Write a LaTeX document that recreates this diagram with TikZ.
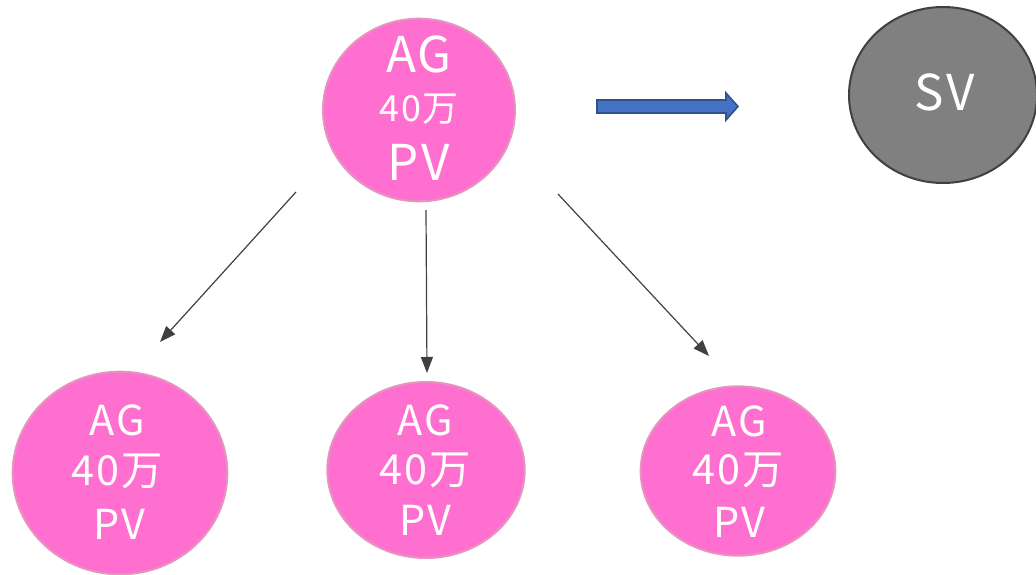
\documentclass[tikz,border=0pt]{standalone}
\usepackage{fontspec}
\setmainfont{Noto Sans CJK JP}[LetterSpace=5]
\usetikzlibrary{shapes.geometric,arrows.meta}

\definecolor{agpink}{RGB}{255,111,207}
\definecolor{agedge}{RGB}{228,148,190}
\definecolor{svgray}{RGB}{128,128,128}
\definecolor{svedge}{RGB}{64,64,64}
\definecolor{flowblue}{RGB}{68,114,196}
\definecolor{flowedge}{RGB}{47,82,143}
\definecolor{linkgray}{RGB}{64,64,64}

\tikzset{every picture/.style={line width=0.75pt},
  agbubble/.style={ellipse, draw=agedge, fill=agpink, line width=1.5pt, inner sep=0pt},
  svbubble/.style={ellipse, draw=svedge, fill=svgray, line width=1.5pt, inner sep=0pt},
  bigtxt/.style={anchor=base, inner sep=0pt, text=white, font=\fontsize{37}{40}\selectfont},
  midtxt/.style={anchor=base, inner sep=0pt, text=white, font=\fontsize{27}{30}\selectfont},
  lowtxt/.style={anchor=base, inner sep=0pt, text=white, font=\fontsize{31}{34}\selectfont},
  link/.style={draw=linkgray, line width=0.9pt, -{Triangle[length=12pt,width=9pt]}},
}

\begin{document}
\begin{tikzpicture}[x=0.75pt,y=0.75pt,yscale=-1]
\useasboundingbox (0,0) rectangle (1036,575);
\clip (0,0) rectangle (1036,575);

%Shape: Ellipse [top]
\node [agbubble, minimum width=144pt, minimum height=137pt] (ag0) at (419,110) {};
%Shape: Ellipse [SV]
\node [svbubble, minimum width=141pt, minimum height=132pt] (sv) at (943,95) {};
%Shape: Ellipse [bottom left]
\node [agbubble, minimum width=161pt, minimum height=152pt] (ag1) at (120,473) {};
%Shape: Ellipse [bottom middle]
\node [agbubble, minimum width=148pt, minimum height=132pt] (ag2) at (426,470) {};
%Shape: Ellipse [bottom right]
\node [agbubble, minimum width=146pt, minimum height=127pt] (ag3) at (738,471) {};

%Shape: Right Arrow
\draw [fill=flowblue, draw=flowedge, line width=1.2pt] (597,100) -- (726,100) -- (726,93) -- (738,106.5) -- (726,120) -- (726,113) -- (597,113) -- cycle ;

%Straight Lines
\coordinate (l1a) at (296,192); \coordinate (l1b) at (160,342);
\coordinate (l2a) at (426,210); \coordinate (l2b) at (427,373);
\coordinate (l3a) at (558,194); \coordinate (l3b) at (709,356);
\draw [link] (l1a) -- (l1b) ;
\draw [link] (l2a) -- (l2b) ;
\draw [link] (l3a) -- (l3b) ;

% Text Node
\node [bigtxt] (ag0a) at (419,72) {AG};
\node [midtxt] (ag0b) at (419,121) {40万};
\node [bigtxt] (ag0c) at (419,180) {PV};
% Text Node
\node [bigtxt] (svt) at (945,110) {SV};
% Text Node
\node [lowtxt] (ag1a) at (117,435) {AG};
\node [lowtxt] (ag1b) at (117,485) {40万};
\node [lowtxt] (ag1c) at (119,539) {PV};
% Text Node
\node [lowtxt] (ag2a) at (425,435) {AG};
\node [lowtxt] (ag2b) at (425,484) {40万};
\node [lowtxt] (ag2c) at (425,535) {PV};
% Text Node
\node [lowtxt] (ag3a) at (739,436) {AG};
\node [lowtxt] (ag3b) at (738,484) {40万};
\node [lowtxt] (ag3c) at (739,537) {PV};

\end{tikzpicture}
\end{document}
